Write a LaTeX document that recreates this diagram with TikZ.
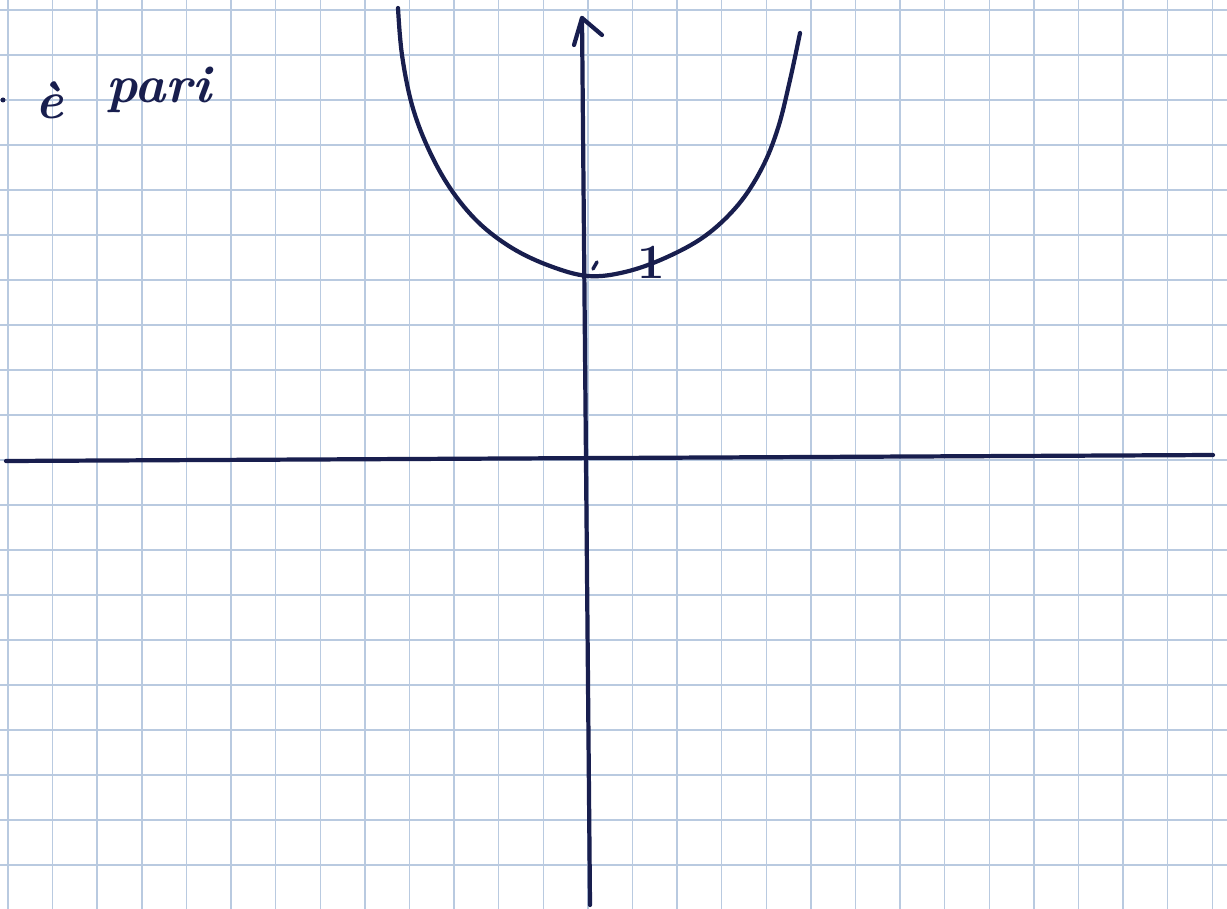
\documentclass[tikz,border=0pt]{standalone}
\usetikzlibrary{arrows.meta}
\definecolor{ink}{RGB}{24,30,78}
\definecolor{gridc}{RGB}{185,202,224}
\tikzset{
  gridline/.style={draw=gridc, line width=0.8pt},
  inkline/.style={draw=ink, line width=2.4pt, line cap=round, line join=round},
  hand/.style={text=ink, font=\fontsize{30}{32}\selectfont\bfseries\itshape, inner sep=0pt},
}
\begin{document}
\begin{tikzpicture}[x=0.02cm, y=-0.02cm]
\useasboundingbox (0,0) rectangle (1227,909);
\fill[white] (0,0) rectangle (1227,909);
% grid
\foreach \k in {0,...,27} {
  \draw[gridline] ({8+\k*44.6},0) -- ({8+\k*44.6},909);
}
\foreach \k in {0,...,20} {
  \draw[gridline] (0,{10+\k*45}) -- (1227,{10+\k*45});
}
% axes
\coordinate (xl) at (6,461);
\coordinate (xr) at (1213,455);
\coordinate (yb) at (590,905);
\coordinate (yt) at (582,18);
\draw[inkline] (xl) -- (xr);
\draw[inkline] (yb) -- (yt);
\draw[inkline] (574,45) -- (yt) -- (602,35);
% curve
\draw[inkline] plot[smooth, tension=0.6] coordinates {
  (398,8) (402,55) (412,105) (428,148) (450,188) (478,222) (512,248) (550,266) (588,276)
  (625,272) (665,258) (705,236) (738,205) (762,168) (778,128) (790,80) (800,33)};
% tick and label
\coordinate (tk1) at (593,269);
\coordinate (tk2) at (597,262);
\draw[ink, line width=2pt, line cap=round] (tk1) -- (tk2);
\node[hand, font=\fontsize{28}{30}\selectfont\bfseries] (one) at (651,262) {1};
% text
\fill[ink] (3,100) circle (2.5);
\node[hand] (e) at (50,100) {è};
\node[hand, anchor=base west] (pari) at (106,103) {pari};
\end{tikzpicture}
\end{document}
